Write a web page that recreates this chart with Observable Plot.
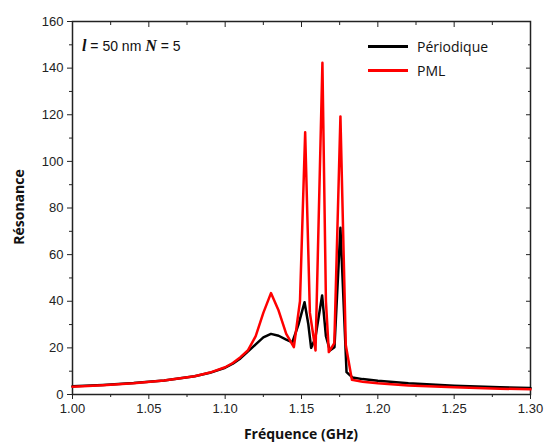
<!DOCTYPE html>
<html><head><meta charset="utf-8">
<script src="https://cdn.jsdelivr.net/npm/d3@7"></script>
<script src="https://cdn.jsdelivr.net/npm/@observablehq/plot@0.6"></script>
<style>
body{margin:0;background:#fff;}
#wrap{position:relative;width:544px;height:442px;}
.ov{position:absolute;white-space:nowrap;}
</style></head><body><div id="wrap"></div>
<script>
const freqPeriodique = [1.00,1.02,1.04,1.06,1.08,1.09,1.10,1.105,1.11,1.115,1.12,1.125,1.13,1.135,1.14,1.144,1.148,1.152,1.1545,1.1563,1.159,1.1635,1.166,1.1686,1.1716,1.1755,1.1795,1.1834,1.19,1.20,1.22,1.25,1.28,1.30];
const resPeriodique = [3.5,4.1,4.9,6.0,7.8,9.3,11.5,13.2,15.5,18.5,21.5,24.5,26,25.2,23.5,22.4,30,39.6,30,20,24,42.5,25,18.9,20.3,71.5,9.6,7.3,6.6,5.9,4.8,3.8,3.1,2.8];
const freqPML = [1.00,1.02,1.04,1.06,1.08,1.09,1.10,1.105,1.11,1.115,1.12,1.125,1.13,1.135,1.14,1.145,1.149,1.1524,1.1555,1.1592,1.1637,1.166,1.1679,1.1715,1.1755,1.179,1.183,1.19,1.20,1.22,1.25,1.28,1.30];
const resPML = [3.3,4.0,4.8,6.0,7.8,9.4,11.7,13.5,16,19,25,35,43.5,36,26,20.3,40,112.5,35,18.9,142.3,40,18.2,22,119.3,21.3,6.3,5.5,4.8,3.9,3.1,2.5,2.2];
const xTicks = [1.00,1.05,1.10,1.15,1.20,1.25,1.30];
const xMinor = [1.025,1.075,1.125,1.175,1.225,1.275];
const yTicks = [0,20,40,60,80,100,120,140,160];
const yMinor = [10,30,50,70,90,110,130,150];
const seriesNames = ["Périodique","PML"];
const seriesColors = ["#000000","#ff0000"];

const per = freqPeriodique.map((f,i)=>({f, v:resPeriodique[i]}));
const pml = freqPML.map((f,i)=>({f, v:resPML[i]}));
const tickFont = {fontSize:13, fontFamily:"Liberation Sans, Arial, sans-serif"};

const chart = Plot.plot({
  width:544, height:442,
  marginLeft:72, marginRight:14, marginTop:21, marginBottom:48,
  style:{fontFamily:"Liberation Sans, Arial, sans-serif", fontSize:"13px", color:"#222", background:"#fff"},
  x:{domain:[1.00,1.30]},
  y:{domain:[0,160]},
  marks:[
    Plot.axisX({ticks:xTicks, tickFormat:d3.format(".2f"), tickSize:5, tickPadding:4, label:null, fontSize:13}),
    Plot.axisX({ticks:xMinor, tickFormat:()=>"", tickSize:3, label:null}),
    Plot.axisX({anchor:"top", ticks:xTicks, tickFormat:()=>"", tickSize:-5, label:null}),
    Plot.axisX({anchor:"top", ticks:xMinor, tickFormat:()=>"", tickSize:-3, label:null}),
    Plot.axisY({ticks:yTicks, tickSize:5, tickPadding:4, label:null, fontSize:13}),
    Plot.axisY({ticks:yMinor, tickFormat:()=>"", tickSize:3, label:null}),
    Plot.axisY({anchor:"right", ticks:yTicks, tickFormat:()=>"", tickSize:-5, label:null}),
    Plot.axisY({anchor:"right", ticks:yMinor, tickFormat:()=>"", tickSize:-3, label:null}),
    Plot.frame({stroke:"#222", strokeWidth:1.5}),
    Plot.line(per, {x:"f", y:"v", stroke:seriesColors[0], strokeWidth:2.5}),
    Plot.line(pml, {x:"f", y:"v", stroke:seriesColors[1], strokeWidth:2.5})
  ]
});
const wrap = document.getElementById("wrap");
wrap.appendChild(chart);

// axis titles
const yt = document.createElement("div");
yt.className="ov";
yt.style.cssText += "left:18px;top:207px;transform:translate(-50%,-50%) rotate(-90deg);font:bold 14px 'Open Sans',sans-serif;color:#111;";
yt.textContent="Résonance";
wrap.appendChild(yt);
const xt = document.createElement("div");
xt.className="ov";
xt.style.cssText += "left:301px;top:433px;transform:translate(-50%,-50%);font:bold 14px 'Open Sans',sans-serif;color:#111;";
xt.textContent="Fréquence (GHz)";
wrap.appendChild(xt);

// annotation
const an = document.createElement("div");
an.className="ov";
an.style.cssText += "left:82px;top:37px;font:14px 'Liberation Sans',Arial,sans-serif;color:#111;";
an.innerHTML = "<span style=\"font:italic bold 16px 'Liberation Serif',serif\">l</span> = 50 nm <span style=\"font:italic bold 16px 'Liberation Serif',serif\">N</span> = 5";
wrap.appendChild(an);

// legend
seriesNames.forEach((name,i)=>{
  const row = document.createElement("div");
  row.className="ov";
  row.style.cssText += `left:368px;top:${37+i*24}px;display:flex;align-items:center;font:14px 'Open Sans',sans-serif;color:#111;`;
  row.innerHTML = `<span style="display:inline-block;width:40px;height:2.5px;background:${seriesColors[i]};margin-right:9px"></span>${name}`;
  wrap.appendChild(row);
});
</script></body></html>
